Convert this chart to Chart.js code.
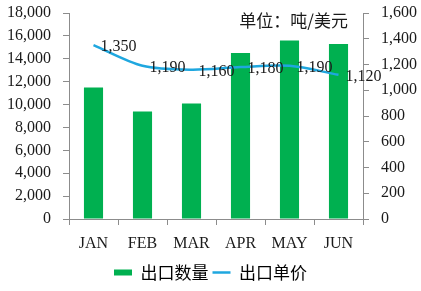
<!DOCTYPE html>
<html>
<head>
<meta charset="utf-8">
<script src="https://cdn.jsdelivr.net/npm/chart.js@4"></script>
<style>
  html, body { margin: 0; padding: 0; background: #fff; }
  #wrap { width: 421px; height: 291px; position: relative; }
</style>
</head>
<body>
<div id="wrap"><canvas id="c"></canvas></div>
<script>
// Monthly export volume (bars, left axis) and unit price (line, right axis)
const months = ['JAN', 'FEB', 'MAR', 'APR', 'MAY', 'JUN'];
const exportVolume = [11500, 9400, 10100, 14500, 15600, 15300];
const unitPrice = [1350, 1190, 1160, 1180, 1190, 1120];
const volumeLabel = '出口数量';
const priceLabel = '出口单价';
const unitNote = '单位：吨/美元';

const GREEN = '#00B050';
const BLUE = '#1FA7DF';
const AXIS = '#8c8c8c';
const TEXT = '#1a1a1a';
const SERIF = '"Liberation Serif", "Times New Roman", serif';
const CJK = '"Noto Sans CJK SC", "Noto Sans", sans-serif';

const fmt = v => v.toLocaleString('en-US');

// value labels to the right of each price point, plus the unit note
const annotate = {
  id: 'annotate',
  afterDatasetsDraw(chart) {
    const ctx = chart.ctx;
    const meta = chart.getDatasetMeta(1);
    ctx.save();
    ctx.font = '16px ' + SERIF;
    ctx.fillStyle = TEXT;
    ctx.textAlign = 'left';
    ctx.textBaseline = 'middle';
    meta.data.forEach((pt, i) => {
      ctx.fillText(fmt(unitPrice[i]), pt.x + 7, pt.y + 2);
    });
    ctx.font = '17px ' + CJK;
    ctx.textAlign = 'right';
    ctx.fillText(unitNote, chart.chartArea.right - 15, 21);
    ctx.restore();
  }
};

// fixed axis sizes keep the plot box in place
const fitY = width => scale => {
  scale.width = width;
  scale.paddingTop = 0;
  scale.paddingBottom = 0;
};

new Chart(document.getElementById('c'), {
  data: {
    labels: months,
    datasets: [
      {
        type: 'bar',
        label: volumeLabel,
        data: exportVolume,
        backgroundColor: GREEN,
        borderWidth: 0,
        yAxisID: 'y',
        categoryPercentage: 1,
        barPercentage: 0.39,
        order: 2
      },
      {
        type: 'line',
        label: priceLabel,
        data: unitPrice,
        borderColor: BLUE,
        backgroundColor: BLUE,
        borderWidth: 2.5,
        pointRadius: 0,
        tension: 0.3,
        yAxisID: 'y1',
        order: 1
      }
    ]
  },
  options: {
    responsive: true,
    maintainAspectRatio: false,
    animation: false,
    layout: { padding: { top: 13, left: 0, right: 0, bottom: 0 } },
    plugins: {
      tooltip: { enabled: false },
      legend: {
        position: 'bottom',
        labels: {
          usePointStyle: true,
          pointStyleWidth: 18,
          boxHeight: 6,
          padding: 4,
          color: TEXT,
          font: { family: CJK, size: 17 },
          generateLabels(chart) {
            return chart.data.datasets.map((ds, i) => ({
              text: ds.label,
              fillStyle: ds.type === 'bar' ? GREEN : BLUE,
              strokeStyle: ds.type === 'bar' ? GREEN : BLUE,
              lineWidth: ds.type === 'bar' ? 0 : 2.5,
              pointStyle: ds.type === 'bar' ? 'rect' : 'line',
              datasetIndex: i,
              hidden: false
            }));
          }
        }
      }
    },
    scales: {
      x: {
        offset: true,
        grid: {
          offset: true,
          drawOnChartArea: false,
          color: AXIS,
          tickLength: 6
        },
        border: { color: AXIS },
        ticks: {
          color: TEXT,
          font: { family: SERIF, size: 16 },
          padding: 9
        },
        afterFit(scale) {
          scale.height = 41;
          scale.paddingLeft = 0;
          scale.paddingRight = 0;
        }
      },
      y: {
        position: 'left',
        min: 0,
        max: 18000,
        ticks: {
          stepSize: 2000,
          autoSkip: false,
          color: TEXT,
          font: { family: SERIF, size: 16 },
          padding: 12,
          callback: v => fmt(v)
        },
        grid: { drawOnChartArea: false, color: AXIS, tickLength: 6 },
        border: { color: AXIS },
        afterFit: fitY(69)
      },
      y1: {
        position: 'right',
        min: 0,
        max: 1600,
        ticks: {
          stepSize: 200,
          autoSkip: false,
          color: TEXT,
          font: { family: SERIF, size: 16 },
          padding: 12,
          callback: v => fmt(v)
        },
        grid: { drawOnChartArea: false, color: AXIS, tickLength: 6 },
        border: { color: AXIS },
        afterFit: fitY(58)
      }
    }
  },
  plugins: [annotate]
});
</script>
</body>
</html>
